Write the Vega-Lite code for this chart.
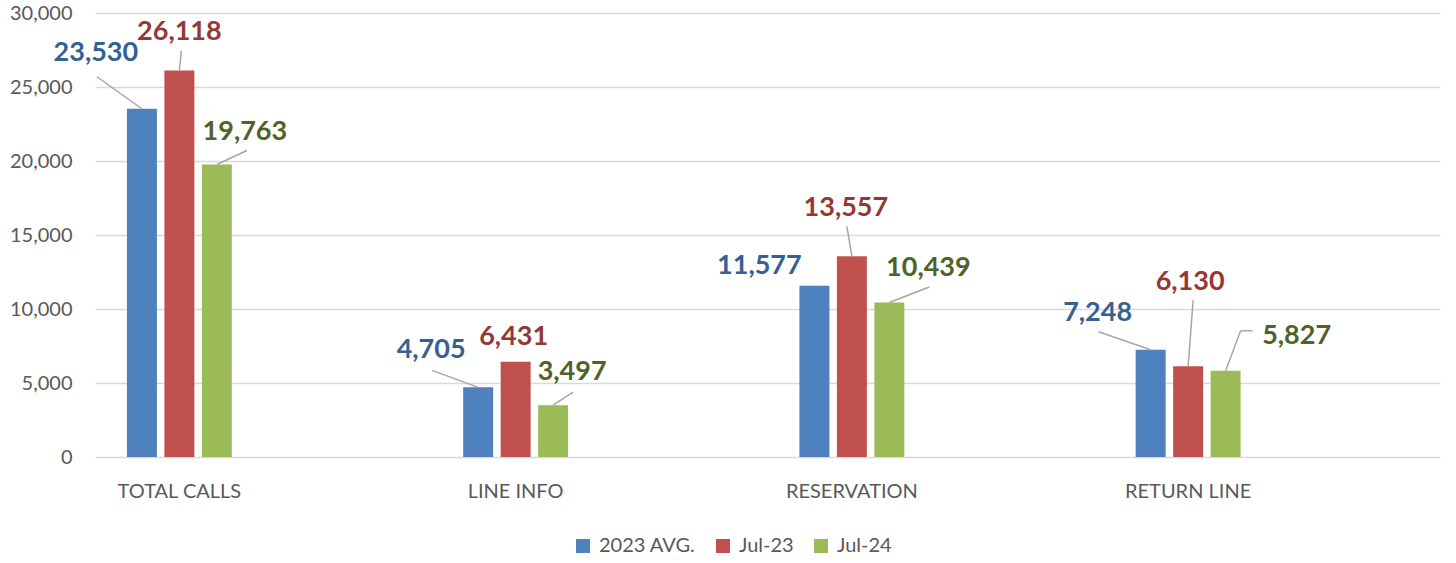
{
  "$schema": "https://vega.github.io/schema/vega-lite/v6.json",
  "width": 1345,
  "height": 444,
  "autosize": {"type": "none"},
  "padding": {"left": 95, "top": 13, "right": 16, "bottom": 106},
  "background": "white",
  "config": {"view": {"stroke": null}, "font": "Lato"},
  "params": [
    {"name": "lab", "value": {
      "TOTAL CALLS|2023 AVG.": [-46, -56, -45, -32, 0],
      "TOTAL CALLS|Jul-23": [0, -38.5, 2, -20, 0],
      "TOTAL CALLS|Jul-24": [28, -32.5, 30, -14, 0],
      "LINE INFO|2023 AVG.": [-47, -37, -46, -17, 0],
      "LINE INFO|Jul-23": [-2, -25, 0, 0, 0],
      "LINE INFO|Jul-24": [19, -33, 20, -13, 0],
      "RESERVATION|2023 AVG.": [-55, -20, 0, 0, 0],
      "RESERVATION|Jul-23": [-6, -48, -5, -30, 0],
      "RESERVATION|Jul-24": [39, -34.5, 40, -15.5, 0],
      "RETURN LINE|2023 AVG.": [-53, -37, -52, -18, 0],
      "RETURN LINE|Jul-23": [2, -84, 5, -66, 0],
      "RETURN LINE|Jul-24": [71, -35, 15, -40, 12]
    }}
  ],
  "data": {"values": [
    {"category": "TOTAL CALLS", "series": "2023 AVG.", "value": 23530},
    {"category": "TOTAL CALLS", "series": "Jul-23", "value": 26118},
    {"category": "TOTAL CALLS", "series": "Jul-24", "value": 19763},
    {"category": "LINE INFO", "series": "2023 AVG.", "value": 4705},
    {"category": "LINE INFO", "series": "Jul-23", "value": 6431},
    {"category": "LINE INFO", "series": "Jul-24", "value": 3497},
    {"category": "RESERVATION", "series": "2023 AVG.", "value": 11577},
    {"category": "RESERVATION", "series": "Jul-23", "value": 13557},
    {"category": "RESERVATION", "series": "Jul-24", "value": 10439},
    {"category": "RETURN LINE", "series": "2023 AVG.", "value": 7248},
    {"category": "RETURN LINE", "series": "Jul-23", "value": 6130},
    {"category": "RETURN LINE", "series": "Jul-24", "value": 5827}
  ]},
  "encoding": {
    "x": {
      "field": "category", "type": "nominal",
      "sort": ["TOTAL CALLS", "LINE INFO", "RESERVATION", "RETURN LINE"],
      "scale": {"paddingInner": 0.688, "paddingOuter": 0.344, "align": 0.138},
      "axis": {"title": null, "labelAngle": 0, "ticks": false, "domain": false, "labelFontSize": 20, "labelColor": "#595959", "labelPadding": 24, "grid": false}
    },
    "y": {
      "field": "value", "type": "quantitative",
      "scale": {"domain": [0, 30000], "nice": false},
      "axis": {"title": null, "values": [0, 5000, 10000, 15000, 20000, 25000, 30000], "format": ",.0f", "labelFontSize": 20, "labelColor": "#595959", "ticks": false, "domain": false, "gridColor": "#D9D9D9", "gridWidth": 1.5, "labelPadding": 23}
    }
  },
  "layer": [
    {
      "mark": {"type": "bar"},
      "encoding": {
        "xOffset": {"field": "series", "type": "nominal", "sort": ["2023 AVG.", "Jul-23", "Jul-24"], "scale": {"paddingInner": 0.2, "paddingOuter": 0}},
        "color": {
          "field": "series", "type": "nominal",
          "scale": {"domain": ["2023 AVG.", "Jul-23", "Jul-24"], "range": ["#4F81BD", "#C0504D", "#9BBB59"]},
          "legend": {"title": null, "orient": "none", "legendX": 478, "legendY": 523, "direction": "horizontal", "symbolType": "square", "symbolSize": 196, "symbolStrokeWidth": 0, "labelFontSize": 20, "labelColor": "#595959", "columnPadding": 17, "labelOffset": 6}
        }
      }
    },
    {
      "mark": {
        "type": "rule", "color": "#A6A6A6", "strokeWidth": 1.5,
        "xOffset": {"expr": "indexof(['2023 AVG.','Jul-23','Jul-24'], datum.series)*37.5-37.5"},
        "x2Offset": {"expr": "indexof(['2023 AVG.','Jul-23','Jul-24'], datum.series)*37.5-37.5 + lab[datum.category + '|' + datum.series][2]"},
        "y2Offset": {"expr": "lab[datum.category + '|' + datum.series][3]"}
      },
      "encoding": {
        "x2": {"field": "category"},
        "y2": {"field": "value"}
      }
    },
    {
      "mark": {
        "type": "rule", "color": "#A6A6A6", "strokeWidth": 1.5,
        "xOffset": {"expr": "indexof(['2023 AVG.','Jul-23','Jul-24'], datum.series)*37.5-37.5 + lab[datum.category + '|' + datum.series][2]"},
        "x2Offset": {"expr": "indexof(['2023 AVG.','Jul-23','Jul-24'], datum.series)*37.5-37.5 + lab[datum.category + '|' + datum.series][2] + lab[datum.category + '|' + datum.series][4]"},
        "yOffset": {"expr": "lab[datum.category + '|' + datum.series][3]"},
        "y2Offset": {"expr": "lab[datum.category + '|' + datum.series][3]"}
      },
      "encoding": {
        "x2": {"field": "category"},
        "y2": {"field": "value"}
      }
    },
    {
      "mark": {
        "type": "text", "fontSize": 27, "fontWeight": "bold", "align": "center", "baseline": "middle",
        "xOffset": {"expr": "indexof(['2023 AVG.','Jul-23','Jul-24'], datum.series)*37.5-37.5 + lab[datum.category + '|' + datum.series][0]"},
        "yOffset": {"expr": "lab[datum.category + '|' + datum.series][1]"},
        "color": {"expr": "datum.series == '2023 AVG.' ? '#376092' : datum.series == 'Jul-23' ? '#953735' : '#4F6228'"}
      },
      "encoding": {
        "text": {"field": "value", "type": "quantitative", "format": ","}
      }
    }
  ]
}
